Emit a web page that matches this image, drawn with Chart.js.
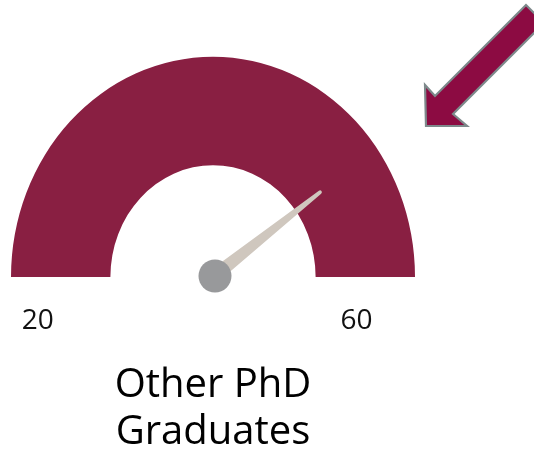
<!DOCTYPE html>
<html>
<head>
<meta charset="utf-8">
<script src="https://cdn.jsdelivr.net/npm/chart.js@4"></script>
<style>
  html, body { margin: 0; padding: 0; background: #ffffff; }
  #wrap { width: 534px; height: 463px; }
</style>
</head>
<body>
<div id="wrap"><canvas id="c" width="534" height="463"></canvas></div>
<script>
// ---- data ----
const gaugeRange = [20, 60];          // min, max of the dial
const tickLabels = ['20', '60'];      // labels under the dial ends
const needleValue = [52];             // value the needle points at
const titleLines = ['Other PhD', 'Graduates'];
const segmentValues = [gaugeRange[1] - gaugeRange[0]];

// ---- styles ----
const gaugeColor = '#891F42';
const needleColor = '#CFC7BE';
const pivotColor = '#98999B';
const arrowFill = '#8C0B42';
const arrowStroke = '#7D898B';
const yStretch = 1.09;

const gaugePlugin = {
  id: 'gaugeDecor',
  beforeDatasetsDraw(chart) {
    const arc = chart.getDatasetMeta(0).data[0];
    const ctx = chart.ctx;
    ctx.save();
    ctx.translate(arc.x, arc.y);
    ctx.scale(1, yStretch);
    ctx.translate(-arc.x, -arc.y);
  },
  afterDatasetsDraw(chart) {
    const ctx = chart.ctx;
    ctx.restore();
    const arc = chart.getDatasetMeta(0).data[0];
    const cx = arc.x, cy = arc.y, R = arc.outerRadius;

    // needle
    const frac = (needleValue[0] - gaugeRange[0]) / (gaugeRange[1] - gaugeRange[0]);
    const ang = arc.startAngle + frac * (arc.endAngle - arc.startAngle);
    const L = R * 0.655;
    const tx = cx + Math.cos(ang) * L;
    const ty = cy + Math.sin(ang) * L * yStretch;
    const dx = tx - cx, dy = ty - cy;
    const len = Math.hypot(dx, dy);
    const nx = -dy / len, ny = dx / len;
    const wb = 7, wt = 1.8;
    ctx.save();
    ctx.fillStyle = needleColor;
    ctx.beginPath();
    ctx.moveTo(cx + nx * wb, cy + ny * wb);
    ctx.lineTo(tx + nx * wt, ty + ny * wt);
    const a0 = Math.atan2(ny, nx);
    ctx.arc(tx, ty, wt, a0, a0 + Math.PI, true);
    ctx.lineTo(cx - nx * wb, cy - ny * wb);
    ctx.closePath();
    ctx.fill();
    ctx.fillStyle = pivotColor;
    ctx.beginPath();
    ctx.arc(cx + 2, cy - 1, 16.5, 0, Math.PI * 2);
    ctx.fill();

    // end labels
    ctx.fillStyle = '#111111';
    ctx.font = '28px "Open Sans", sans-serif';
    ctx.textAlign = 'center';
    ctx.textBaseline = 'alphabetic';
    ctx.fillText(tickLabels[0], cx - R * 0.868, cy + 52);
    ctx.fillText(tickLabels[1], cx + R * 0.71, cy + 52);
    ctx.restore();
  },
  afterDraw(chart) {
    // decorative arrow pointing at the dial
    const ctx = chart.ctx;
    const a = chart.chartArea;
    const ox = a.right, oy = a.top;
    const pts = [[11, 51], [10, 10], [20, 21], [111, -70], [129, -52], [38, 39], [52, 51]];
    ctx.save();
    ctx.beginPath();
    pts.forEach((p, i) => {
      if (i === 0) ctx.moveTo(ox + p[0], oy + p[1]);
      else ctx.lineTo(ox + p[0], oy + p[1]);
    });
    ctx.closePath();
    ctx.fillStyle = arrowFill;
    ctx.fill();
    ctx.lineWidth = 2.2;
    ctx.lineJoin = 'miter';
    ctx.strokeStyle = arrowStroke;
    ctx.stroke();
    ctx.restore();
  }
};

new Chart(document.getElementById('c'), {
  type: 'doughnut',
  data: {
    labels: ['Range'],
    datasets: [{
      data: segmentValues,
      backgroundColor: [gaugeColor],
      borderWidth: 0,
      hoverOffset: 0
    }]
  },
  options: {
    responsive: false,
    animation: false,
    rotation: -90,
    circumference: 180,
    cutout: '50.8%',
    layout: { padding: { left: 11, right: 119, top: 75, bottom: 0 } },
    plugins: {
      legend: { display: false },
      tooltip: { enabled: false },
      title: {
        display: true,
        position: 'bottom',
        text: titleLines,
        color: '#000000',
        font: { family: '"Open Sans", sans-serif', size: 40, weight: 'normal', lineHeight: 47 / 40 },
        padding: { top: 85.5, bottom: 6.5 }
      }
    }
  },
  plugins: [gaugePlugin]
});
</script>
</body>
</html>
